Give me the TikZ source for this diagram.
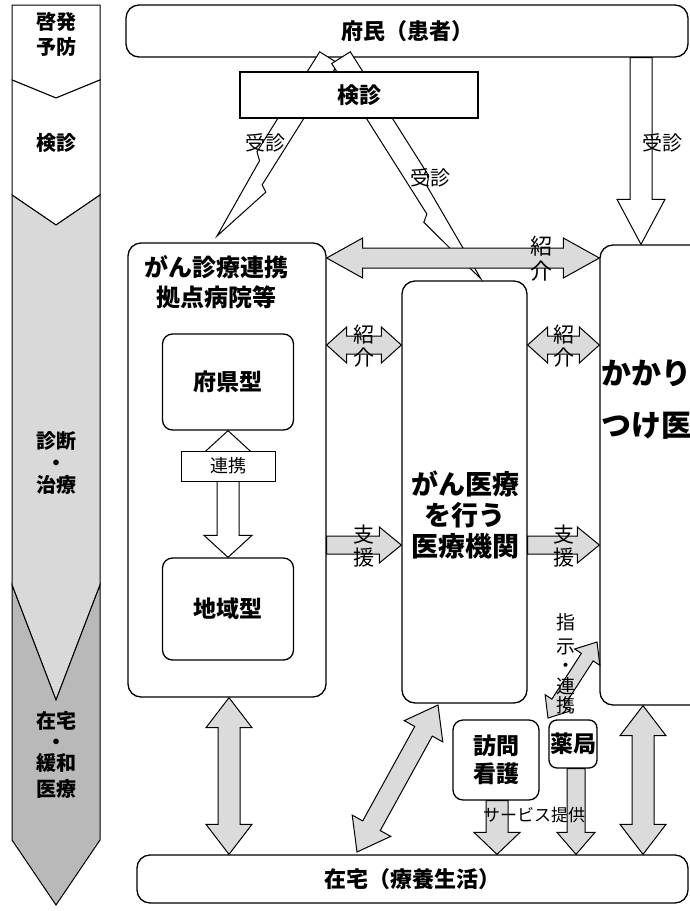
\documentclass[tikz,border=0pt]{standalone}
\usepackage{fontspec}
\setmainfont{Noto Sans CJK JP}
\usetikzlibrary{calc}
\tikzset{
  box/.style={draw, line width=1.3pt, rounded corners=13pt, fill=white},
  sqbox/.style={draw, line width=1.2pt, fill=white},
  arrw/.style={draw, line width=1pt, line join=miter, fill=white},
  garrw/.style={draw, line width=1pt, line join=miter, fill=gray!28},
  seg/.style={draw, line width=1pt},
  fs/.style={font=\bfseries\fontsize{#1}{#1}\selectfont, inner sep=0pt, align=center},
  ls/.style={font=\fontsize{#1}{#1}\selectfont, inner sep=0pt, align=center},
}
% single arrow: #1 style, #2 from, #3 to, #4 shaft half, #5 head half, #6 head length
\newcommand\fatsingle[6]{%
  \coordinate (hB) at ($(#3)!#6!(#2)$);
  \draw[#1] ($(#2)!#4!90:(#3)$) -- ($(hB)!#4!-90:(#2)$) -- ($(hB)!#5!-90:(#2)$) -- (#3)
    -- ($(hB)!#5!90:(#2)$) -- ($(hB)!#4!90:(#2)$) -- ($(#2)!#4!-90:(#3)$) -- cycle;}
% double arrow
\newcommand\fatdouble[6]{%
  \coordinate (hA) at ($(#2)!#6!(#3)$);
  \coordinate (hB) at ($(#3)!#6!(#2)$);
  \draw[#1] (#2) -- ($(hA)!#5!90:(#3)$) -- ($(hA)!#4!90:(#3)$) -- ($(hB)!#4!-90:(#2)$)
    -- ($(hB)!#5!-90:(#2)$) -- (#3) -- ($(hB)!#5!90:(#2)$) -- ($(hB)!#4!90:(#2)$)
    -- ($(hA)!#4!-90:(#3)$) -- ($(hA)!#5!-90:(#3)$) -- cycle;}
% lightning arrow: #1 style, #2 from, #3 to, #4 side with early notch, #5 other side
\newcommand\bolt[5]{%
  \coordinate (bq1) at ($(#2)!0.56!(#3)$);
  \coordinate (bq1b) at ($(#2)!0.59!(#3)$);
  \coordinate (bq2) at ($(#2)!0.68!(#3)$);
  \coordinate (bq2b) at ($(#2)!0.70!(#3)$);
  \draw[#1] ($(#2)!11pt!#4:(#3)$) -- ($(bq1)!11pt!#4:(#3)$) -- ($(bq1b)!4pt!#4:(#3)$) -- (#3)
    -- ($(bq2b)!18pt!#5:(#3)$) -- ($(bq2)!11pt!#5:(#3)$) -- ($(#2)!11pt!#5:(#3)$) -- cycle;}
\begin{document}
\begin{tikzpicture}[x=1pt,y=-1pt]
\useasboundingbox (0,0) rectangle (690,911);
\fill[white] (0,0) rectangle (690,911);

% ---------- left process column ----------
\draw[seg, fill=white] (12,5) -- (100,5) -- (100,80) -- (56,98) -- (12,80) -- cycle;
\draw[seg, fill=white] (12,80) -- (56,98) -- (100,80) -- (100,195) -- (56,225) -- (12,195) -- cycle;
\draw[seg, fill=gray!30] (12,195) -- (56,225) -- (100,195) -- (100,585) -- (56,700) -- (12,585) -- cycle;
\draw[seg, fill=gray!55] (12,585) -- (56,700) -- (100,585) -- (100,840) -- (56,905) -- (12,840) -- cycle;
\node[fs=20] (c1) at (56,34) {啓発\\[5pt]予防};
\node[fs=20] (c2) at (56,143) {検診};
\node[fs=20] (c3) at (56,463) {診断\\[2pt]・\\[2pt]治療};
\node[fs=20] (c4) at (56,755) {在宅\\[1pt]・\\[1pt]緩和\\[6pt]医療};

% ---------- main boxes ----------
\node[box, minimum width=562, minimum height=52] (fumin) at (407,31) {};
\node[fs=22] at (fumin) {府民（患者）};

\node[box, minimum width=198, minimum height=454] (lbox) at (227,470) {};
\node[fs=24] (ltitle) at (216,282) {がん診療連携\\[6pt]拠点病院等};
\node[box, minimum width=131, minimum height=96, rounded corners=10pt] (fuken) at (228,382) {};
\node[fs=23] at (fuken) {府県型};
\node[box, minimum width=131, minimum height=102, rounded corners=10pt] (chiiki) at (228,609) {};
\node[fs=23] at (chiiki) {地域型};

\node[box, minimum width=125, minimum height=422] (mbox) at (464.5,492) {};
\node[fs=27] at (465,515) {がん医療\\[4pt]を行う\\[4pt]医療機関};

\node[box, minimum width=110, minimum height=460] (kbox) at (655,475) {};
\node[fs=30] at (646,400) {かかり\\[22pt]つけ医};

\node[box, minimum width=86, minimum height=80, rounded corners=10pt] (houmon) at (496,760) {};
\node[fs=23] at (houmon) {訪問\\[5pt]看護};
\node[box, minimum width=48, minimum height=48, rounded corners=8pt] (yakkyoku) at (573,744) {};
\node[fs=23] at (yakkyoku) {薬局};

\node[box, minimum width=551, minimum height=48] (zaitaku) at (412.5,879) {};
\node[fs=22] at (zaitaku) {在宅（療養生活）};

% ---------- arrows from 府民 ----------
\coordinate (j1a) at (fumin.south -| 329,0);
\coordinate (j1b) at (217,236);
\coordinate (j2a) at (fumin.south -| 341,0);
\coordinate (j2b) at (481,279);
\bolt{arrw}{j1a}{j1b}{-90}{90}
\bolt{arrw}{j2a}{j2b}{90}{-90}
\node[sqbox, minimum width=238, minimum height=46] (kenshin) at (359,95) {};
\node[fs=22] at (kenshin) {検診};
\coordinate (j3a) at (fumin.south -| 641,0);
\coordinate (j3b) at (kbox.north -| 641,0);
\fatsingle{arrw}{j3a}{j3b}{11pt}{24pt}{45pt}
\node[ls=20] at (265,143) {受診};
\node[ls=20] at (430,178) {受診};
\node[ls=20] at (662,143) {受診};

% ---------- 紹介 / 支援 ----------
\coordinate (s0a) at (lbox.east |- 0,258);
\coordinate (s0b) at (kbox.west |- 0,258);
\fatdouble{garrw}{s0a}{s0b}{10pt}{20pt}{36pt}
\node[ls=22] at (541,259) {紹\\[3pt]介};

\coordinate (s1a) at (lbox.east |- 0,345);
\coordinate (s1b) at (mbox.west |- 0,345);
\fatdouble{garrw}{s1a}{s1b}{9pt}{18pt}{20pt}
\node[ls=21] at (364,346) {紹\\[2pt]介};
\coordinate (s2a) at (mbox.east |- 0,345);
\coordinate (s2b) at (kbox.west |- 0,345);
\fatdouble{garrw}{s2a}{s2b}{9pt}{18pt}{20pt}
\node[ls=21] at (564,346) {紹\\[2pt]介};

\coordinate (h1a) at (lbox.east |- 0,545);
\coordinate (h1b) at (mbox.west |- 0,545);
\fatsingle{garrw}{h1a}{h1b}{9pt}{18pt}{22pt}
\node[ls=21] at (364,546) {支\\[2pt]援};
\coordinate (h2a) at (mbox.east |- 0,545);
\coordinate (h2b) at (kbox.west |- 0,545);
\fatsingle{garrw}{h2a}{h2b}{9pt}{18pt}{22pt}
\node[ls=21] at (564,546) {支\\[2pt]援};

% ---------- 連携 between 府県型 and 地域型 ----------
\fatdouble{arrw}{fuken.south}{chiiki.north}{11pt}{24pt}{22pt}
\node[sqbox, minimum width=94, minimum height=30, line width=1pt] (renkei) at (228,466) {};
\node[ls=18] at (renkei) {連携};

% ---------- 指示・連携 ----------
\coordinate (sj1) at (548,718);
\coordinate (sj2) at (597,642);
\fatdouble{garrw}{sj1}{sj2}{7pt}{15pt}{18pt}
\node[ls=19] at (566,664) {指\\[5pt]示\\[0pt]・\\[2pt]連\\[0pt]携};

% ---------- arrows to 在宅 ----------
\coordinate (b1a) at (lbox.south -| 229,0);
\coordinate (b1b) at (zaitaku.north -| 229,0);
\fatdouble{garrw}{b1a}{b1b}{11pt}{23pt}{30pt}
\coordinate (b2a) at (438,705);
\coordinate (b2b) at (357,852);
\fatdouble{garrw}{b2a}{b2b}{10pt}{22pt}{30pt}
\coordinate (b3a) at (houmon.south -| 497,0);
\coordinate (b3b) at (zaitaku.north -| 497,0);
\fatsingle{garrw}{b3a}{b3b}{11pt}{23pt}{22pt}
\coordinate (b4a) at (yakkyoku.south -| 576,0);
\coordinate (b4b) at (zaitaku.north -| 576,0);
\fatsingle{garrw}{b4a}{b4b}{9pt}{19pt}{22pt}
\coordinate (b5a) at (kbox.south -| 643,0);
\coordinate (b5b) at (zaitaku.north -| 643,0);
\fatdouble{garrw}{b5a}{b5b}{11pt}{23pt}{30pt}
\node[ls=17] at (534,815) {サービス提供};
\end{tikzpicture}
\end{document}
